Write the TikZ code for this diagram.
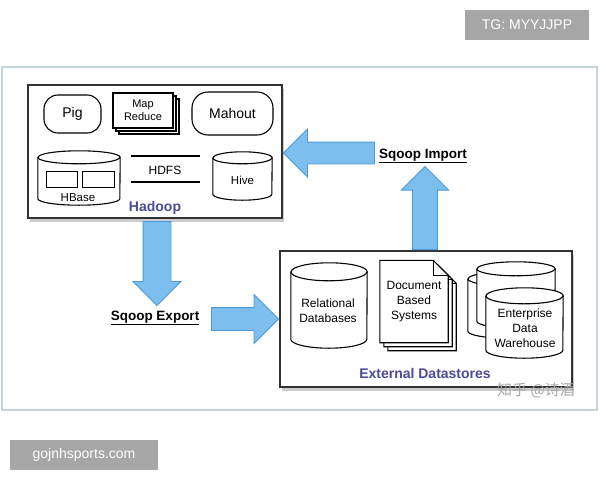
\documentclass[tikz,border=0pt]{standalone}
\usepackage{fontspec}
\setmainfont{Liberation Sans}
\newfontfamily\cjkfont{Noto Sans CJK SC}
\usepackage{tikz}
\usetikzlibrary{positioning,shapes.arrows,shadows}
\definecolor{arrowfill}{HTML}{7CBFEE}
\definecolor{arrowedge}{HTML}{4A98D6}
\definecolor{titleblue}{HTML}{4B4B9A}
\definecolor{framegray}{HTML}{C4D4DA}
\definecolor{tagfill}{HTML}{A6A6A6}
\newcommand{\fs}[1]{\fontsize{#1}{#1}\selectfont}
% drum = database cylinder: name, centre, width, height, cap radius
\newcommand{\drum}[5]{%
  \node[drumbox, minimum width=#3pt, minimum height=#4pt] (#1) at (#2) {};
  \draw[drumline] ([yshift=-#5pt]#1.north west) -- ([yshift=#5pt]#1.south west)
    arc[start angle=180, end angle=360, x radius=#3pt/2, y radius=#5pt]
    -- ([yshift=-#5pt]#1.north east)
    arc[start angle=0, end angle=180, x radius=#3pt/2, y radius=#5pt] -- cycle;
  \draw[line width=1.1pt] ([yshift=-#5pt]#1.north west)
    arc[start angle=180, end angle=360, x radius=#3pt/2, y radius=#5pt];
}
% page with a folded corner round node #1
\newcommand{\dogear}[1]{%
  \draw[drumline] (#1.north west) -- ([xshift=-15pt]#1.north east)
    -- ([yshift=-15pt]#1.north east) -- (#1.south east) -- (#1.south west) -- cycle;
  \draw[line width=1.1pt] ([xshift=-15pt]#1.north east)
    |- ([yshift=-15pt]#1.north east);
}
\tikzset{
  panel/.style={draw=black!80, line width=1.8pt, fill=white, inner sep=0pt,
    drop shadow={shadow xshift=2pt, shadow yshift=-4pt, fill=black!45, opacity=0.45}},
  tool/.style={draw, line width=1.1pt, fill=white, inner sep=0pt},
  sheet/.style={draw, line width=1.1pt, fill=white, inner sep=0pt},
  drumbox/.style={inner sep=0pt},
  drumline/.style={draw, line width=1.1pt, fill=white},
  label/.style={align=center, font=\fontsize{12}{15}\selectfont},
  title/.style={font=\bfseries\fs{14}, text=titleblue},
  sqoop/.style={font=\bfseries\fs{13.5}},
  bigarrow/.style={single arrow, draw=arrowedge, fill=arrowfill, line width=0.9pt,
    inner sep=0pt, minimum width=47pt},
  tagbox/.style={fill=tagfill, text=white, font=\fs{14}, inner sep=0pt,
    minimum height=30pt}
}
\begin{document}
\begin{tikzpicture}[x=1pt,y=-1pt]
\useasboundingbox (0,0) rectangle (600,480);

% watermarks
\node[tagbox, minimum width=124pt] (tg) at (527,25) {TG: MYYJJPP};
\node[tagbox, minimum width=148pt] (site) at (84,455) {gojnhsports.com};

\node[draw=framegray, line width=1.2pt, minimum width=595pt, minimum height=343pt,
  inner sep=0pt] (frame) at (299.5,238.5) {};

% Hadoop
\node[panel, minimum width=254pt, minimum height=133pt] (hadoop) at (155,151.5) {};
\node[tool, rounded corners=14pt, minimum width=57pt, minimum height=38pt,
  font=\fs{14}] (pig) at (72.5,114) {Pig};
\node[sheet, minimum width=60pt, minimum height=35pt] (mr-b2) at (149,116.5) {};
\node[sheet, minimum width=60pt, minimum height=35pt] (mr-b1) at (146,113.5) {};
\node[sheet, minimum width=60pt, minimum height=35pt, align=center,
  font=\fontsize{11}{13}\selectfont] (mapred) at (143,110.5) {Map\\Reduce};
\node[tool, rounded corners=16pt, minimum width=81pt, minimum height=43pt,
  font=\fs{14}] (mahout) at (232.5,113.5) {Mahout};
\drum{hbase}{79,178}{82}{54}{6.5}
\node[sheet, line width=0.9pt, minimum width=31pt, minimum height=16pt] (hbase-r1) at (61.5,179) {};
\node[sheet, line width=0.9pt, minimum width=32pt, minimum height=16pt] (hbase-r2) at (98,179) {};
\node[label, font=\fs{11.5}] (hbase-t) at (78,198) {HBase};
\node[label] (hdfs) at (165,170) {HDFS};
\draw[line width=2.2pt] (131,156) -- (200,156);
\draw[line width=2.2pt] (131,182) -- (200,182);
\drum{hive}{242.5,176}{59}{48}{6}
\node[label, font=\fs{11.5}] (hive-t) at (242.5,180) {Hive};
\node[title] (hadoop-t) at (155,208) {Hadoop};

% External datastores
\node[panel, minimum width=292pt, minimum height=136pt] (ext) at (426,319) {};
\drum{rdb}{329,305.5}{76}{85}{9}
\node[label] (rdb-t) at (328,311) {Relational\\Databases};
\node[drumbox, minimum width=68pt, minimum height=82pt] (doc-b2) at (422,309.5) {};
\dogear{doc-b2}
\node[drumbox, minimum width=68pt, minimum height=82pt] (doc-b1) at (418,305.5) {};
\dogear{doc-b1}
\node[drumbox, minimum width=68pt, minimum height=82pt] (docs) at (414,301.5) {};
\dogear{docs}
\node[label] (docs-t) at (414,302) {Document\\Based\\Systems};
\drum{edw-c}{507,305}{78}{66}{7}
\drum{edw-b}{516,295}{78}{66}{7}
\drum{edw}{524.5,323}{77}{70}{8}
\node[label] (edw-t) at (525,328) {Enterprise\\Data\\Warehouse};
\node[title] (ext-t) at (425,373) {External Datastores};

% sqoop arrows
\node[bigarrow, rotate=-90, anchor=tail, minimum height=84pt,
  inner ysep=13.5pt, single arrow head extend=10pt] (export) at (157,221) {};
\node[sqoop] (export-t) at (155,318) {\underline{Sqoop Export}};
\node[bigarrow, anchor=tip, minimum height=67pt, inner ysep=11pt,
  single arrow head extend=13pt] (push) at (ext.west) {};
\node[bigarrow, rotate=180, anchor=tip, minimum height=91pt, inner ysep=10.5pt,
  single arrow head extend=13pt] (import) at (hadoop.east |- 0,153) {};
\node[bigarrow, rotate=90, anchor=tail, minimum height=83pt, inner ysep=12pt,
  single arrow head extend=11pt] (pull) at (425,250) {};
\node[sqoop] (import-t) at (423,156) {\underline{Sqoop Import}};

\node[text=black!35, font=\cjkfont\fs{15}] (zhihu) at (536,390) {知乎 @诗酒};
\end{tikzpicture}
\end{document}
